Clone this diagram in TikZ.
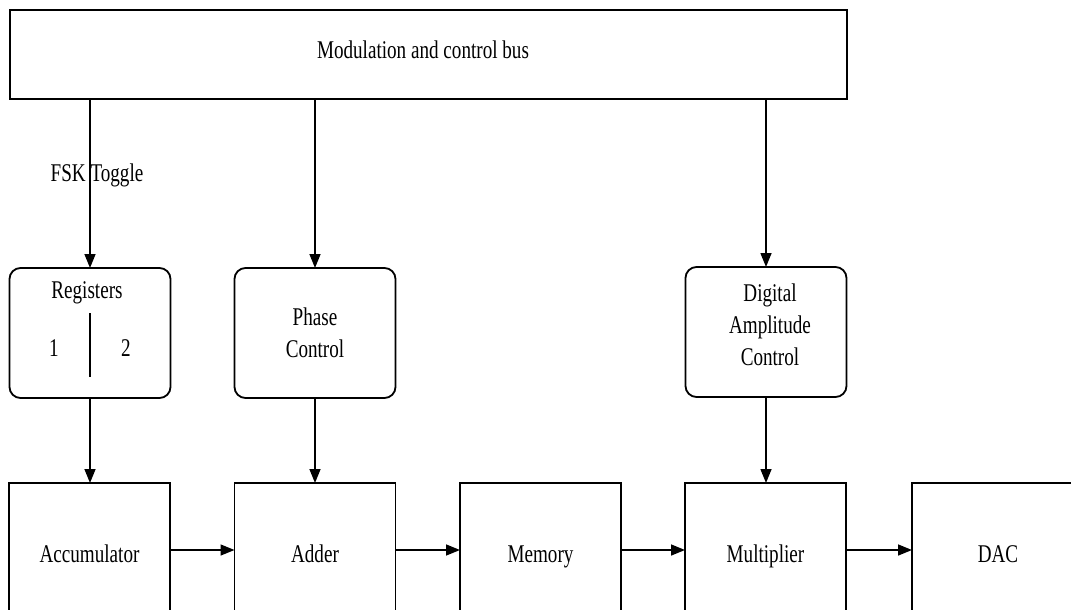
\documentclass[tikz,border=0pt]{standalone}
\usepackage{fontspec}
\setmainfont[FakeStretch=0.75]{Liberation Serif}
\usetikzlibrary{arrows.meta}
\begin{document}
\begin{tikzpicture}[x=1pt,y=-1pt,
  every node/.style={font=\fontsize{25.5}{32}\selectfont},
  blk/.style={draw, line width=1.8pt, inner sep=0pt, outer sep=0pt},
  ctl/.style={blk, rounded corners=11pt, minimum width=161pt, minimum height=130pt},
  stage/.style={blk, minimum width=161pt, minimum height=142pt,
                text height=17pt, text depth=0pt},
  link/.style={line width=1.5pt, -{Triangle[length=14pt,width=11pt]}}]
\useasboundingbox (0,0) rectangle (1071,610);
\clip (0,0) rectangle (1071,610);

% control bus
\node[blk, minimum width=837pt, minimum height=89pt] (bus) at (428.5,54.5) {};
\node (bustxt) at (423,50) {Modulation and control bus};

% control blocks
\node[ctl] (reg) at (90,333) {};
\node (regtxt) at (87,293) {Registers};
\node (r1) at (54,348) {1};
\node (r2) at (126,348) {2};
\draw[line width=1.5pt] ([yshift=20pt]reg.center) -- ([yshift=-44pt]reg.center);

\node[ctl, align=center] (phase) at (315,333) {Phase\\Control};
\node[ctl, align=center] (amp) at (766,332) {};
\node[align=center] (amptxt) at (770,325) {Digital\\Amplitude\\Control};

% signal path
\node[stage] (acc) at (89.5,554) {Accumulator};
\node[stage] (add) at (315,554) {Adder};
\node[stage] (mem) at (540.5,554) {Memory};
\node[stage] (mul) at (765.5,554) {Multiplier};
\node[stage, minimum width=172pt] (dac) at (998,554) {DAC};

% bus to control blocks
\draw[link] (bus.south -| reg.north) -- node[pos=0.45, xshift=7pt] {FSK Toggle} (reg.north);
\draw[link] (bus.south -| phase.north) -- (phase.north);
\draw[link] (bus.south -| amp.north) -- (amp.north);

% control blocks to signal path
\draw[link] (reg.south) -- (acc.north -| reg.south);
\draw[link] (phase.south) -- (add.north -| phase.south);
\draw[link] (amp.south) -- (mul.north -| amp.south);

% data flow
\draw[link] ([yshift=4pt]acc.east) -- ([yshift=4pt]add.west);
\draw[link] ([yshift=4pt]add.east) -- ([yshift=4pt]mem.west);
\draw[link] ([yshift=4pt]mem.east) -- ([yshift=4pt]mul.west);
\draw[link] ([yshift=4pt]mul.east) -- ([yshift=4pt]dac.west);
\end{tikzpicture}
\end{document}
